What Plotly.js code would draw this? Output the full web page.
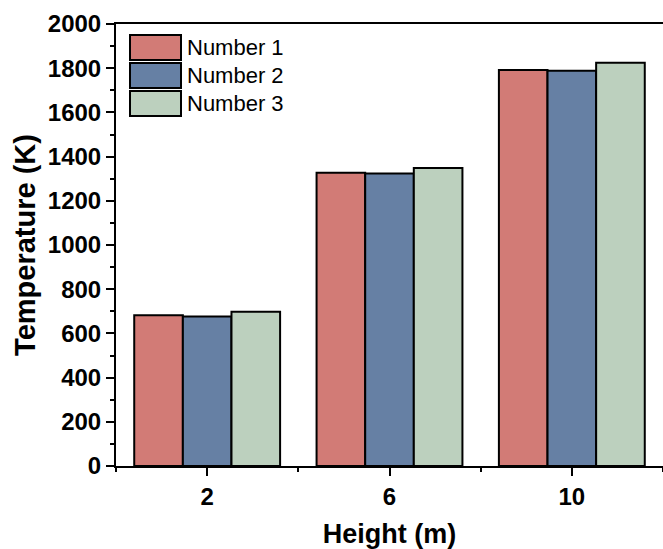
<!DOCTYPE html>
<html>
<head>
<meta charset="utf-8">
<script src="https://cdn.plot.ly/plotly-3.0.1.min.js"></script>
<style>html,body{margin:0;padding:0;background:#fff;}#chart{width:663px;height:549px;}</style>
</head>
<body>
<div id="chart"></div>
<script>
// Data
const heights = ['2', '6', '10'];
const seriesNames = ['Number 1', 'Number 2', 'Number 3'];
const number1 = [682, 1327, 1792];
const number2 = [676, 1323, 1789];
const number3 = [698, 1348, 1825];
const yTickVals = [0, 200, 400, 600, 800, 1000, 1200, 1400, 1600, 1800, 2000];

const colors = ['#D27B76', '#6680A4', '#BCD0BE'];
const allSeries = [number1, number2, number3];
const xIdx = heights.map((_, i) => i);

const traces = allSeries.map((vals, k) => ({
  type: 'bar',
  name: seriesNames[k],
  x: xIdx,
  y: vals,
  marker: {color: colors[k], line: {color: '#000', width: 2}},
  showlegend: false,
  hoverinfo: 'none'
}));

const W = 663, H = 549;
const M = {l: 116, r: 0, t: 24, b: 83};
const pw = W - M.l - M.r, ph = H - M.t - M.b;
const px = v => (v - M.l) / pw;
const py = v => (H - M.b - v) / ph;

const font = 'Liberation Sans, Arial, sans-serif';
const shapes = [];
const annotations = [];
const boxTops = [35, 63, 91];
seriesNames.forEach((n, k) => {
  const top = boxTops[k], bot = top + 25;
  shapes.push({type: 'rect', xref: 'paper', yref: 'paper',
    x0: px(130), x1: px(181), y0: py(bot), y1: py(top),
    fillcolor: colors[k], line: {color: '#000', width: 2}});
  annotations.push({xref: 'paper', yref: 'paper', x: px(185), y: py((top + bot) / 2),
    xanchor: 'left', yanchor: 'middle', showarrow: false, text: n,
    font: {family: font, size: 22, color: '#000'}});
});

const layout = {
  width: W, height: H,
  margin: M,
  paper_bgcolor: '#fff', plot_bgcolor: '#fff',
  barmode: 'group', bargap: 0.2, bargroupgap: 0,
  showlegend: false,
  font: {family: font, color: '#000'},
  xaxis: {
    range: [-0.5, 2.5],
    tickmode: 'array', tickvals: xIdx, ticktext: heights,
    ticks: 'outside', ticklen: 8, tickwidth: 2, tickcolor: '#000',
    showline: true, linewidth: 2, linecolor: '#000', mirror: true,
    showgrid: false, zeroline: false,
    tickfont: {family: font, size: 24, weight: 'bold', color: '#000'},
    minor: {tickmode: 'array', tickvals: [-0.5, 0.5, 1.5, 2.5], ticks: 'outside', ticklen: 4, tickwidth: 2, tickcolor: '#000', showgrid: false},
    title: {text: 'Height (m)', font: {family: font, size: 27, weight: 'bold', color: '#000'}, standoff: 20}
  },
  yaxis: {
    range: [0, 2000],
    tickmode: 'array', tickvals: yTickVals,
    ticks: 'outside', ticklen: 8, tickwidth: 2, tickcolor: '#000',
    showline: true, linewidth: 2, linecolor: '#000', mirror: true,
    showgrid: false, zeroline: false,
    tickfont: {family: font, size: 24, weight: 'bold', color: '#000'},
    minor: {dtick: 100, tick0: 0, ticks: 'outside', ticklen: 4, tickwidth: 2, tickcolor: '#000', showgrid: false},
    title: {text: 'Temperature (K)', font: {family: font, size: 29, weight: 'bold', color: '#000'}, standoff: 4}
  },
  shapes: shapes,
  annotations: annotations
};

Plotly.newPlot('chart', traces, layout, {staticPlot: true, displayModeBar: false});
</script>
</body>
</html>
